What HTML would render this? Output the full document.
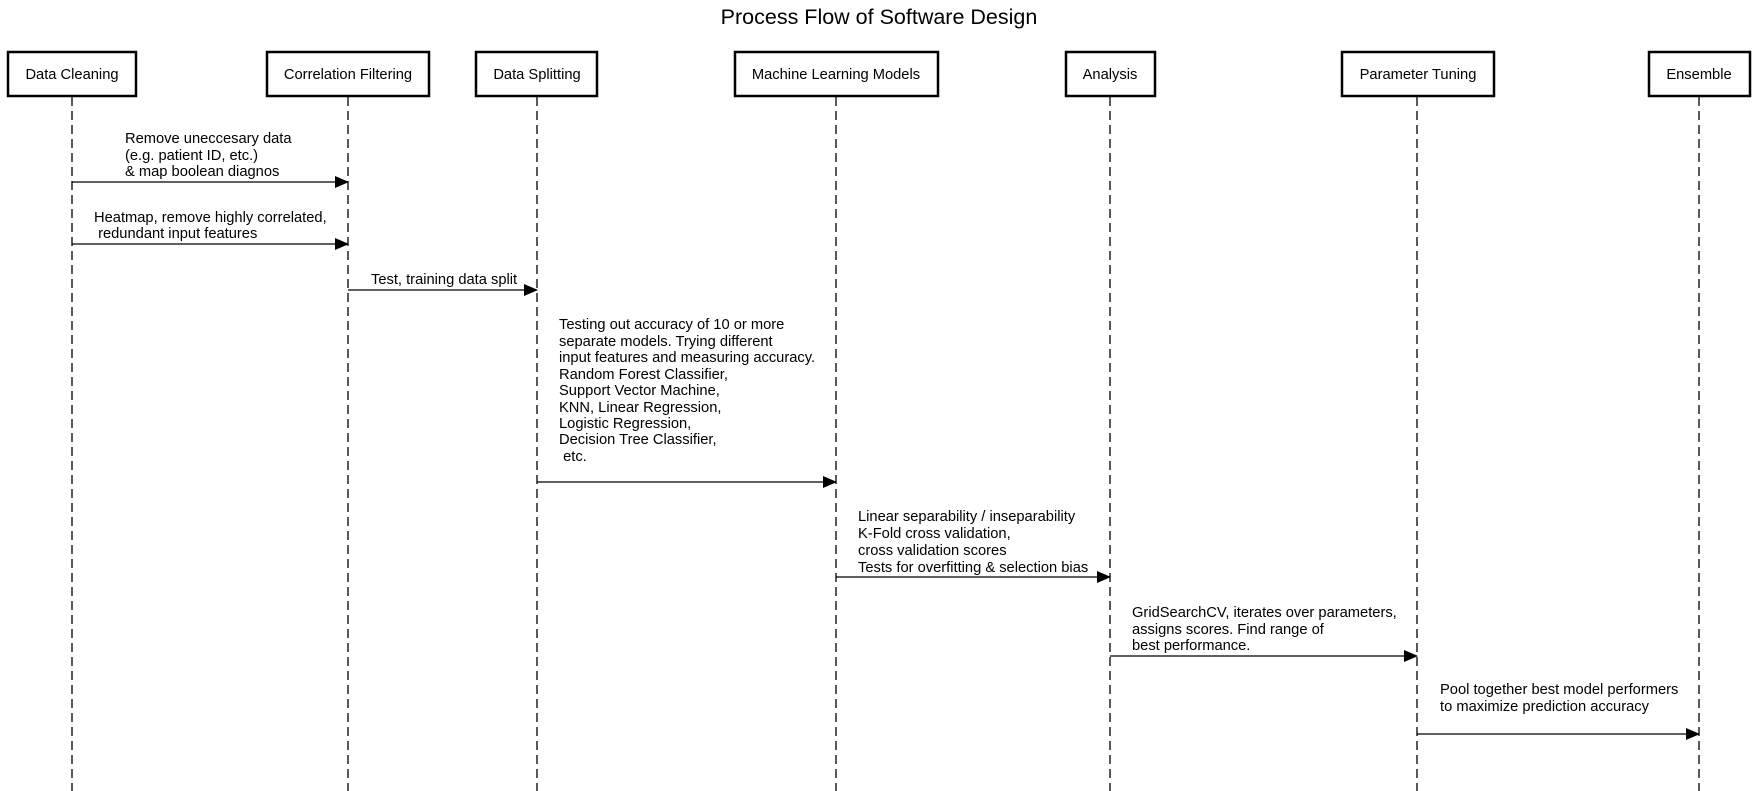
<!DOCTYPE html>
<html><head><meta charset="utf-8"><style>
html,body{margin:0;padding:0;background:#fff;}
svg{display:block;}
text{font-family:"Liberation Sans",Arial,sans-serif;font-size:14.7px;fill:#000;}
</style></head><body>
<svg width="1757" height="791" viewBox="0 0 1757 791" xmlns="http://www.w3.org/2000/svg">
<defs><marker id="a" markerWidth="14" markerHeight="12" refX="13" refY="6" orient="auto" markerUnits="userSpaceOnUse"><path d="M0,0 L14,6 L0,12 Z" fill="#000"/></marker></defs>
<text x="879" y="24" text-anchor="middle" style="font-size:21.5px">Process Flow of Software Design</text>
<g stroke="#000" stroke-width="1.3" stroke-dasharray="9,5" fill="none">
<line x1="72" y1="97" x2="72" y2="791"/>
<line x1="348" y1="97" x2="348" y2="791"/>
<line x1="537" y1="97" x2="537" y2="791"/>
<line x1="836" y1="97" x2="836" y2="791"/>
<line x1="1110" y1="97" x2="1110" y2="791"/>
<line x1="1417" y1="97" x2="1417" y2="791"/>
<line x1="1699" y1="97" x2="1699" y2="791"/>
</g>
<g stroke="#000" stroke-width="2.5" fill="#fff">
<rect x="8" y="52" width="128" height="44"/>
<rect x="267" y="52" width="162" height="44"/>
<rect x="476" y="52" width="121" height="44"/>
<rect x="735" y="52" width="203" height="44"/>
<rect x="1066" y="52" width="89" height="44"/>
<rect x="1342" y="52" width="152" height="44"/>
<rect x="1649" y="52" width="101" height="44"/>
</g>
<g text-anchor="middle">
<text x="72" y="79">Data Cleaning</text>
<text x="348" y="79">Correlation Filtering</text>
<text x="537" y="79">Data Splitting</text>
<text x="836" y="79">Machine Learning Models</text>
<text x="1110" y="79">Analysis</text>
<text x="1418" y="79">Parameter Tuning</text>
<text x="1699" y="79">Ensemble</text>
</g>
<g stroke="#000" stroke-width="1.3" marker-end="url(#a)">
<line x1="72" y1="182" x2="348" y2="182"/>
<line x1="72" y1="244" x2="348" y2="244"/>
<line x1="348" y1="290" x2="537" y2="290"/>
<line x1="537" y1="482" x2="836" y2="482"/>
<line x1="836" y1="577" x2="1110" y2="577"/>
<line x1="1110" y1="656" x2="1417" y2="656"/>
<line x1="1417" y1="734" x2="1699" y2="734"/>
</g>
<text x="125" y="143">Remove uneccesary data</text>
<text x="125" y="160">(e.g. patient ID, etc.)</text>
<text x="125" y="176">&amp; map boolean diagnos</text>
<text x="94" y="222">Heatmap, remove highly correlated,</text>
<text x="94" y="238" xml:space="preserve"> redundant input features</text>
<text x="371" y="284">Test, training data split</text>
<text x="559" y="329">Testing out accuracy of 10 or more</text>
<text x="559" y="346">separate models. Trying different</text>
<text x="559" y="362">input features and measuring accuracy.</text>
<text x="559" y="379">Random Forest Classifier,</text>
<text x="559" y="395">Support Vector Machine,</text>
<text x="559" y="412">KNN, Linear Regression,</text>
<text x="559" y="428">Logistic Regression,</text>
<text x="559" y="444">Decision Tree Classifier,</text>
<text x="559" y="461" xml:space="preserve"> etc.</text>
<text x="858" y="521">Linear separability / inseparability</text>
<text x="858" y="538">K-Fold cross validation,</text>
<text x="858" y="555">cross validation scores</text>
<text x="858" y="572">Tests for overfitting &amp; selection bias</text>
<text x="1132" y="617">GridSearchCV, iterates over parameters,</text>
<text x="1132" y="634">assigns scores. Find range of</text>
<text x="1132" y="650">best performance.</text>
<text x="1440" y="694">Pool together best model performers</text>
<text x="1440" y="711">to maximize prediction accuracy</text>
</svg>
</body></html>
